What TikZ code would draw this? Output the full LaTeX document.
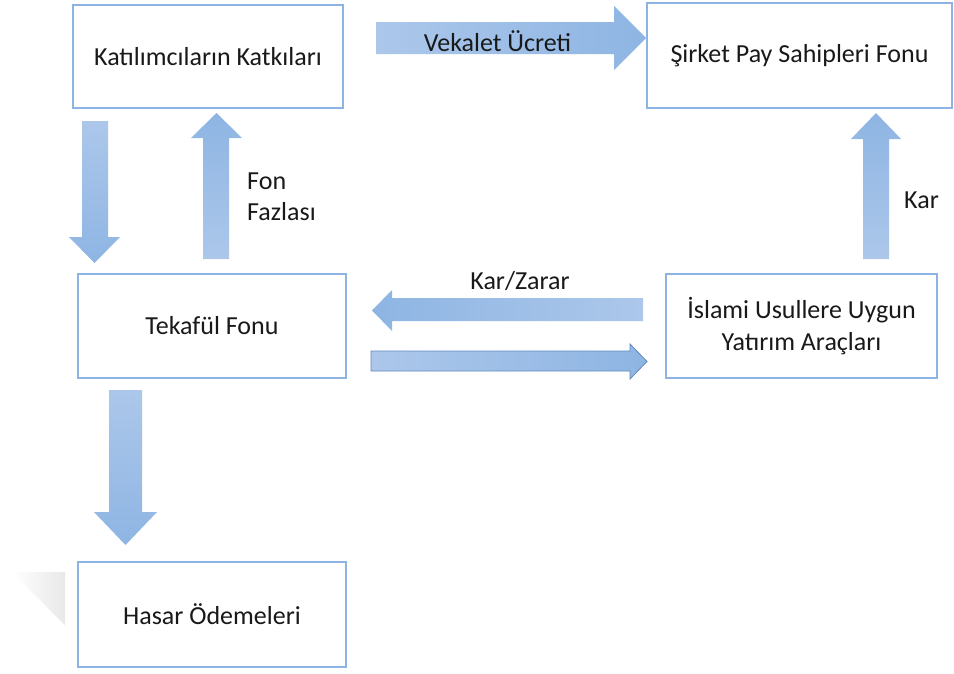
\documentclass[tikz,border=0pt]{standalone}
\usepackage{fontspec}
\setmainfont{Carlito}
\definecolor{boxline}{RGB}{141,179,226}
\definecolor{arrlight}{RGB}{172,199,234}
\definecolor{arrdark}{RGB}{142,181,227}
\definecolor{arredge}{RGB}{98,138,190}
\definecolor{txt}{RGB}{25,25,25}
\begin{document}
\begin{tikzpicture}[x=1pt,y=-1pt,
  box/.style={draw=boxline, line width=1.4pt, fill=white, inner sep=0pt,
    text=txt, align=center, font=\fontsize{26}{32}\selectfont},
  lbl/.style={text=txt, inner sep=0pt, font=\fontsize{26}{31}\selectfont},
  down/.style={top color=arrlight, bottom color=arrdark},
  up/.style={top color=arrdark, bottom color=arrlight},
  right/.style={left color=arrlight, right color=arrdark},
  left/.style={left color=arrdark, right color=arrlight}]
\useasboundingbox (0,0) rectangle (954,673);
\fill[white] (0,0) rectangle (954,673);

% faint corner shadow beside the claims box
\shade[left color=white, right color=black!9] (12,572) -- (65,572) -- (65,625) -- cycle;

% boxes
\node[box, minimum width=270pt, minimum height=103pt] (kat) at (208,56.5) {Katılımcıların Katkıları};
\node[box, minimum width=305pt, minimum height=105pt] (sirket) at (799.5,55.5) {Şirket Pay Sahipleri Fonu};
\node[box, minimum width=268pt, minimum height=104pt] (tekaful) at (212,326) {Tekafül Fonu};
\node[box, minimum width=271pt, minimum height=104pt] (yatirim) at (801.5,326) {İslami Usullere Uygun\\Yatırım Araçları};
\node[box, minimum width=268pt, minimum height=105pt] (hasar) at (212,614.5) {Hasar Ödemeleri};

% block arrows
\shade[right] (376,22) -- (614,22) -- (614,6) -- (646,38) -- (614,70) -- (614,54) -- (376,54) -- cycle;
\shade[down] (82,121) -- (108,121) -- (108,237) -- (120,237) -- (94.5,263) -- (69,237) -- (82,237) -- cycle;
\shade[up] (203,259) -- (229,259) -- (229,138) -- (242,138) -- (216.5,113) -- (191,138) -- (203,138) -- cycle;
\shade[up] (863,259) -- (889,259) -- (889,139) -- (901,139) -- (876,113) -- (851,139) -- (863,139) -- cycle;
\shade[left] (643,298) -- (392,298) -- (392,290) -- (372,310.5) -- (392,331) -- (392,321) -- (643,321) -- cycle;
\shade[right, draw=arredge, line width=0.8pt] (371,351) -- (630,351) -- (630,344) -- (647,361.5) -- (630,379) -- (630,371) -- (371,371) -- cycle;
\shade[down] (109,390) -- (142,390) -- (142,512) -- (157,512) -- (125.5,545) -- (94,512) -- (109,512) -- cycle;

% arrow labels
\node[lbl] (vekalet) at (497.5,41) {Vekalet Ücreti};
\node[lbl, anchor=west, align=left] (fazla) at (247,197) {Fon\\Fazlası};
\node[lbl, anchor=west] (kar) at (904,200) {Kar};
\node[lbl] (karzarar) at (520,281) {Kar/Zarar};
\end{tikzpicture}
\end{document}
